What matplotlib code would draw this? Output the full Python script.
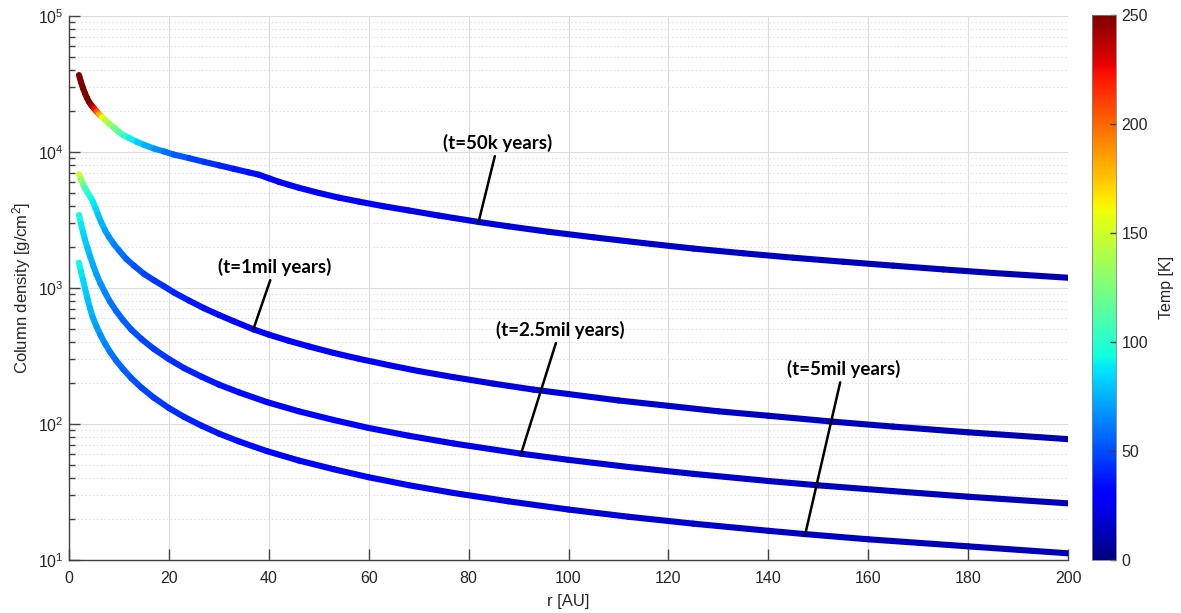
import numpy as np
import matplotlib
matplotlib.use("Agg")
import matplotlib.pyplot as plt
from matplotlib.collections import LineCollection
from matplotlib.colors import Normalize
from matplotlib.ticker import LogLocator, FixedLocator

plt.rcParams['font.family'] = ['Liberation Sans', 'DejaVu Sans']
plt.rcParams['mathtext.fontset'] = 'custom'
plt.rcParams['mathtext.rm'] = 'Liberation Sans'
plt.rcParams['mathtext.it'] = 'Liberation Sans:italic'

# ---- disk profiles: radius [AU], column density [g/cm^2], midplane temperature [K]
r_50k = [2.0, 2.4, 2.8, 3.2, 3.6, 4.0, 4.5, 5.0, 5.5, 6.0, 6.6, 7.2, 8.0, 9.0, 10, 11,
         12, 13.5, 15, 17, 19, 21, 24, 27, 30, 33, 36, 38, 40, 42, 44, 46, 50, 54, 58,
         63, 68, 74, 82, 88, 96, 105, 115, 125, 135, 145, 155, 165, 175, 185, 200]
sig_50k = [36800, 32700, 29500, 27000, 25000, 23400, 22000, 20900, 19900, 19000, 18100,
           17200, 16200, 15100, 14000, 13200, 12700, 11900, 11300, 10600, 10100, 9570,
           9020, 8470, 7980, 7520, 7080, 6810, 6410, 6040, 5740, 5460, 5000, 4620, 4320,
           3990, 3720, 3410, 3060, 2840, 2590, 2360, 2140, 1950, 1800, 1670, 1560, 1460,
           1370, 1290, 1190]
T_50k = [265, 265, 262, 260, 258, 255, 250, 235, 215, 195, 170, 152, 138, 126, 116,
         105, 95, 86, 78, 69, 62, 56, 50, 45, 41, 38, 36, 34, 33, 32, 31, 30, 29, 27.5,
         26, 25, 24, 22.5, 21, 20, 19, 18, 17, 16, 15, 14.5, 14, 13, 12.5, 12, 11]

r_1m = [2.0, 2.4, 2.8, 3.2, 3.6, 4.0, 4.4, 4.8, 5.3, 5.8, 6.4, 7.2, 8.0, 9.0, 10, 11.5,
        13, 15, 17, 19, 21, 24, 27, 30, 33, 36.9, 40, 44, 48, 53, 58, 64, 70, 77, 85,
        93, 100, 110, 120, 130, 140, 153, 165, 180, 200]
sig_1m = [6860, 6310, 5820, 5430, 5110, 4840, 4590, 4290, 3870, 3470, 3070, 2660, 2370,
          2100, 1890, 1630, 1460, 1270, 1140, 1030, 927, 809, 711, 634, 569, 497, 454,
          409, 372, 333, 302, 271, 245, 221, 198, 179, 166, 149, 136, 124, 115, 104,
          95.7, 86.9, 77.4]
T_1m = [160, 140, 125, 112, 104, 98, 94, 90, 86, 82, 78, 73, 69, 65, 61, 57, 53, 49, 46,
        43, 41, 38, 36, 34, 32, 31, 30, 29, 28, 27, 26, 25, 24, 23, 21.5, 20.5, 19.5,
        18, 17, 16, 15, 14, 13, 12, 11]

r_25m = [2.0, 2.4, 2.8, 3.2, 3.7, 4.2, 4.8, 5.5, 6.3, 7.2, 8.2, 9.4, 10.8, 12.5, 14.5,
         17, 20, 23, 26.5, 30, 34, 39.6, 46, 53, 60, 68, 77, 90.5, 100, 112, 125, 140,
         150, 165, 180, 200]
sig_25m = [3440, 2970, 2580, 2270, 1970, 1720, 1480, 1260, 1080, 929, 794, 681, 582, 493,
           422, 356, 300, 258, 223, 195, 171, 145, 124, 107, 93.5, 82.0, 71.9, 60.5,
           54.5, 48.3, 43.0, 38.1, 35.4, 32.1, 29.2, 26.1]
T_25m = [95, 90, 86, 83, 80, 77, 74, 71, 68, 65, 62, 59, 56, 53, 50, 47, 44, 41, 39, 37,
         35, 32, 30, 28, 27, 25, 23.5, 22, 20, 18.5, 17, 15.5, 15, 14, 12.5, 11]

r_5m = [2.0, 2.4, 2.8, 3.2, 3.7, 4.2, 4.8, 5.5, 6.3, 7.2, 8.2, 9.4, 10.8, 12.5, 14.5, 17,
        20, 23, 26.5, 30, 34, 39.6, 46, 53, 60, 68, 77, 88, 100, 112, 125, 140, 147.4,
        160, 180, 200]
sig_5m = [1535, 1320, 1150, 995, 834, 711, 603, 521, 451, 391, 340, 294, 254, 217, 185,
          156, 131, 113, 97.3, 85.1, 74.5, 63.2, 53.9, 46.5, 40.6, 35.5, 31.1, 27.0,
          23.5, 20.8, 18.5, 16.4, 15.5, 14.2, 12.6, 11.2]
T_5m = [95, 90, 86, 83, 80, 77, 74, 71, 68, 65, 62, 59, 56, 53, 50, 47, 44, 41, 39, 37,
        35, 32, 30, 28, 27, 25, 23.5, 22, 20, 18.5, 17, 15.5, 15, 14, 12.5, 11]

labels = ["(t=50k years)", "(t=1mil years)", "(t=2.5mil years)", "(t=5mil years)"]
# radius on each curve that its label points to, and the label centre
label_r = [82, 36.9, 90.5, 147.4]
label_pos = [(85.9, 11640), (41.2, 1426), (98.3, 491), (155.0, 253)]

series = [(r_50k, sig_50k, T_50k), (r_1m, sig_1m, T_1m),
          (r_25m, sig_25m, T_25m), (r_5m, sig_5m, T_5m)]

W, H = 1181, 613
fig = plt.figure(figsize=(W / 100, H / 100), dpi=100)
ax = fig.add_axes([69 / W, 1 - 560 / H, (1068 - 69) / W, (560 - 16) / H])
cax = fig.add_axes([1092 / W, 1 - 560 / H, 24 / W, (560 - 15) / H])

norm = Normalize(0, 250)
cmap = plt.get_cmap('jet')

ax.set_yscale('log')
ax.set_xlim(0, 200)
ax.set_ylim(10, 1e5)

for r, s, T in series:
    pts = np.column_stack([r, s])
    segs = np.stack([pts[:-1], pts[1:]], axis=1)
    Tseg = 0.5 * (np.asarray(T[:-1], float) + np.asarray(T[1:], float))
    lc = LineCollection(segs, cmap=cmap, norm=norm, linewidths=4.4,
                        capstyle='round', joinstyle='round', zorder=3)
    lc.set_array(Tseg)
    ax.add_collection(lc)

for (r, s, T), txt, rr, pos in zip(series, labels, label_r, label_pos):
    i = r.index(rr)
    ax.annotate(txt, xy=(r[i], s[i]), xytext=pos, ha='center', va='center',
                fontsize=13.5, fontweight='bold', family='Lato', color='black',
                arrowprops=dict(arrowstyle='-', lw=1.8, color='black',
                                shrinkA=1, shrinkB=0),
                zorder=5)

# grid and axes styling
spine_col = '#404040'
ax.grid(True, which='major', color='#dcdcdc', lw=0.8, zorder=0)
ax.grid(True, which='minor', axis='y', color='#e2e2e2', lw=0.8, ls=(0, (1.5, 2)),
        zorder=0)
ax.set_axisbelow(True)
ax.xaxis.set_major_locator(FixedLocator(np.arange(0, 201, 20)))
ax.yaxis.set_major_locator(LogLocator(base=10, numticks=10))
ax.yaxis.set_minor_locator(LogLocator(base=10, subs=np.arange(2, 10), numticks=20))
for side in ['top', 'right']:
    ax.spines[side].set_visible(False)
for side in ['left', 'bottom']:
    ax.spines[side].set_color(spine_col)
    ax.spines[side].set_linewidth(1.0)
ax.tick_params(which='major', direction='in', length=8, width=1, color=spine_col,
               labelsize=11.5, labelcolor='#262626')
ax.tick_params(which='minor', direction='in', length=4.5, width=1, color=spine_col)
ax.tick_params(axis='x', pad=8)
ax.tick_params(axis='y', pad=4)

ax.set_xlabel('r [AU]', fontsize=12, color='#262626', labelpad=6)
ax.set_ylabel('Column density [g/cm$^2$]', fontsize=12, color='#262626', labelpad=3)

sm = plt.cm.ScalarMappable(norm=norm, cmap=cmap)
cb = fig.colorbar(sm, cax=cax)
cb.set_ticks([0, 50, 100, 150, 200, 250])
cb.outline.set_edgecolor('#808080')
cb.outline.set_linewidth(0.6)
cax.tick_params(direction='in', length=4, width=1, color='#404040', labelsize=11.5,
                labelcolor='#262626', pad=4)
cb.set_label('Temp [K]', fontsize=11.5, color='#262626', labelpad=8)

fig.savefig('out.png', dpi=100)
